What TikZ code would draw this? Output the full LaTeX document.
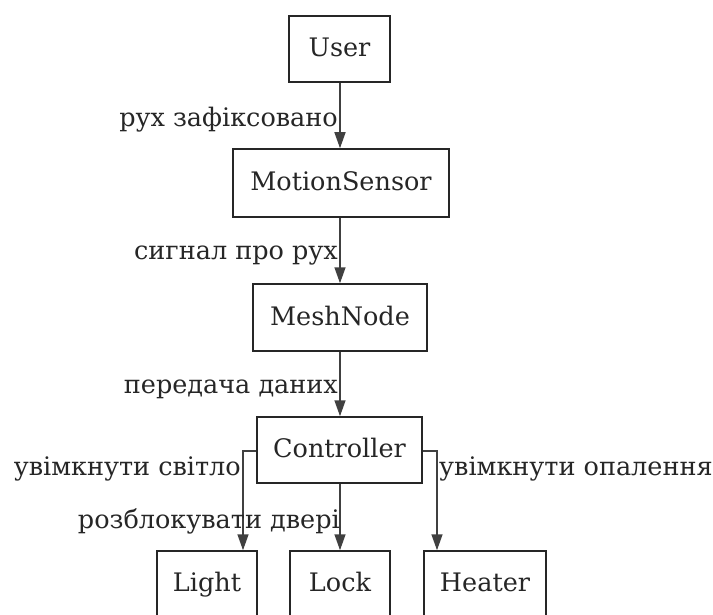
\documentclass[tikz,border=0pt]{standalone}
\usepackage{fontspec}
\setmainfont{DejaVu Serif}
\usetikzlibrary{arrows.meta}
\begin{document}
\begin{tikzpicture}[x=1pt,y=1pt,
  box/.style={draw=black!85, line width=1.5pt, rectangle, minimum height=66pt, inner sep=0pt, text height=20pt, text depth=5pt, font=\fontsize{25.5}{28}\selectfont, text=black!85},
  conn/.style={draw=black!75, line width=1.5pt, -{Triangle[length=16pt,width=11pt]}},
  lbl/.style={font=\fontsize{25.5}{28}\selectfont, text=black!85, inner sep=0pt}]
\useasboundingbox (0,0) rectangle (713,-615);
\node[box, minimum width=101pt] (user) at (339.5,-49) {User};
\node[box, minimum width=216pt, minimum height=68pt] (ms) at (341,-183) {MotionSensor};
\node[box, minimum width=174pt, minimum height=67pt] (mesh) at (340,-317.5) {MeshNode};
\node[box, minimum width=165pt] (ctrl) at (339.5,-450) {Controller};
\node[box, minimum width=100pt] (light) at (207,-584) {Light};
\node[box, minimum width=100pt] (lock) at (340,-584) {Lock};
\node[box, minimum width=122pt] (heater) at (485,-584) {Heater};
\coordinate (lt) at (243,-451);
\coordinate (ht) at (437,-451);
\draw[conn] (user.south -| 340,0) -- (ms.north -| 340,0);
\draw[conn] (ms.south -| 340,0) -- (mesh.north -| 340,0);
\draw[conn] (mesh.south -| 340,0) -- (ctrl.north -| 340,0);
\draw[conn] (ctrl.west |- lt) -- (lt) -- (lt |- light.north);
\draw[conn] (ctrl.south -| 340,0) -- (lock.north -| 340,0);
\draw[conn] (ctrl.east |- ht) -- (ht) -- (ht |- heater.north);
\node[lbl, anchor=base east] (l1) at (338,-127) {рух зафіксовано};
\node[lbl, anchor=base east] (l2) at (338,-259) {сигнал про рух};
\node[lbl, anchor=base east] (l3) at (338,-393) {передача даних};
\node[lbl, anchor=base east] (l4) at (241,-475) {увімкнути світло};
\node[lbl, anchor=base east] (l5) at (340,-528) {розблокувати двері};
\node[lbl, anchor=base west] (l6) at (439,-475) {увімкнути опалення};
\end{tikzpicture}
\end{document}
